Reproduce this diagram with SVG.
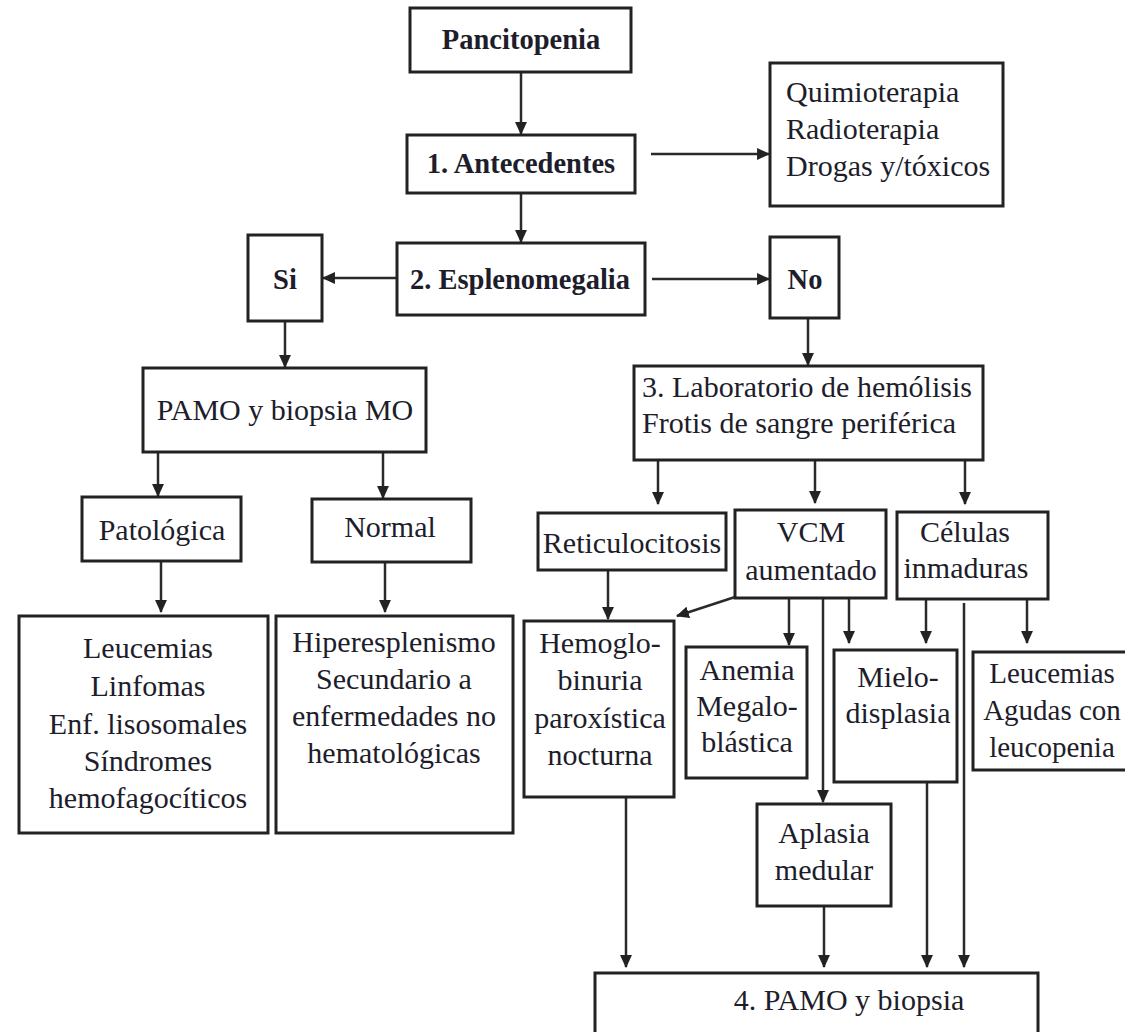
<svg xmlns="http://www.w3.org/2000/svg" width="1125" height="1032" viewBox="0 0 1125 1032">
  <defs>
    <marker id="arrow" markerWidth="13" markerHeight="13" viewBox="0 0 12 12" refX="11" refY="6" orient="auto" markerUnits="userSpaceOnUse">
      <path d="M0,0.5 L12,6 L0,11.5 Z" fill="#222"/>
    </marker>
    <style>
      .box { fill: #fff; stroke: #222; stroke-width: 3; }
      .t { font-family: "Liberation Serif", "Times New Roman", serif; font-size: 30px; fill: #1d1d2b; }
      .b { font-weight: bold; font-size: 28.5px; }
      .c { text-anchor: middle; }
      .s { font-size: 29px; }
      .link { fill: none; stroke: #2a2a2a; stroke-width: 2.5; }
      .arr { marker-end: url(#arrow); }
    </style>
  </defs>
  <rect width="1125" height="1032" fill="#fff"/>

  <!-- connectors -->
  <g id="connectors">
    <line class="link arr" x1="521" y1="72" x2="521" y2="134"/>
    <line class="link arr" x1="651" y1="154" x2="769" y2="154"/>
    <line class="link arr" x1="521" y1="193" x2="521" y2="242"/>
    <line class="link arr" x1="397" y1="278" x2="323" y2="278"/>
    <line class="link arr" x1="652" y1="279" x2="769" y2="279"/>
    <line class="link arr" x1="285" y1="321" x2="285" y2="367"/>
    <line class="link arr" x1="808" y1="318" x2="808" y2="365"/>
    <line class="link arr" x1="158" y1="452" x2="158" y2="496"/>
    <line class="link arr" x1="383" y1="452" x2="383" y2="498"/>
    <line class="link arr" x1="161" y1="561" x2="161" y2="612"/>
    <line class="link arr" x1="385" y1="562" x2="385" y2="612"/>
    <line class="link arr" x1="658" y1="460" x2="658" y2="504"/>
    <line class="link arr" x1="815" y1="460" x2="815" y2="503"/>
    <line class="link arr" x1="965" y1="460" x2="965" y2="504"/>
    <line class="link arr" x1="608" y1="570" x2="608" y2="619"/>
    <line class="link arr" x1="735" y1="597" x2="677" y2="616"/>
    <line class="link arr" x1="789" y1="598" x2="789" y2="645"/>
    <line class="link arr" x1="823" y1="598" x2="823" y2="802"/>
    <line class="link arr" x1="849" y1="598" x2="849" y2="643"/>
    <line class="link arr" x1="926" y1="599" x2="926" y2="643"/>
    <line class="link arr" x1="1027" y1="599" x2="1027" y2="643"/>
    <line class="link arr" x1="964" y1="603" x2="964" y2="967"/>
    <line class="link arr" x1="626" y1="797" x2="626" y2="967"/>
    <line class="link arr" x1="824" y1="906" x2="824" y2="967"/>
    <line class="link arr" x1="927" y1="782" x2="927" y2="967"/>
  </g>

  <!-- nodes -->
  <g id="pancitopenia">
    <rect class="box" x="410" y="8" width="221" height="64"/>
    <text class="t b c" x="521" y="49">Pancitopenia</text>
  </g>
  <g id="antecedentes">
    <rect class="box" x="407" y="135" width="228" height="58"/>
    <text class="t b c" x="521" y="173">1. Antecedentes</text>
  </g>
  <g id="tratamientos">
    <rect class="box" x="770" y="63" width="233" height="143"/>
    <text class="t" x="786" y="102">Quimioterapia</text>
    <text class="t" x="786" y="139">Radioterapia</text>
    <text class="t" x="786" y="176">Drogas y/tóxicos</text>
  </g>
  <g id="esplenomegalia">
    <rect class="box" x="397" y="243" width="248" height="72"/>
    <text class="t b c" x="520" y="289">2. Esplenomegalia</text>
  </g>
  <g id="si">
    <rect class="box" x="248" y="235" width="74" height="86"/>
    <text class="t b c" x="285" y="289">Si</text>
  </g>
  <g id="no">
    <rect class="box" x="770" y="237" width="69" height="81"/>
    <text class="t b c" x="805" y="289">No</text>
  </g>
  <g id="pamo-mo">
    <rect class="box" x="143" y="368" width="283" height="84"/>
    <text class="t c" x="285" y="420">PAMO y biopsia MO</text>
  </g>
  <g id="patologica">
    <rect class="box" x="82" y="497" width="159" height="64"/>
    <text class="t c" x="162" y="540">Patológica</text>
  </g>
  <g id="normal">
    <rect class="box" x="312" y="499" width="159" height="63"/>
    <text class="t c" x="390" y="537">Normal</text>
  </g>
  <g id="leucemias-linfomas">
    <rect class="box" x="19" y="616" width="249" height="217"/>
    <text class="t c" x="148" y="658">Leucemias</text>
    <text class="t c" x="148" y="696">Linfomas</text>
    <text class="t c" x="148" y="734">Enf. lisosomales</text>
    <text class="t c" x="148" y="771">Síndromes</text>
    <text class="t c" x="148" y="808">hemofagocíticos</text>
  </g>
  <g id="hiperesplenismo">
    <rect class="box" x="276" y="616" width="237" height="217"/>
    <text class="t c" x="394" y="652">Hiperesplenismo</text>
    <text class="t c" x="394" y="689">Secundario a</text>
    <text class="t c" x="394" y="726">enfermedades no</text>
    <text class="t c" x="394" y="763">hematológicas</text>
  </g>
  <g id="laboratorio">
    <rect class="box" x="634" y="366" width="349" height="94"/>
    <text class="t" x="642" y="397">3. Laboratorio de hemólisis</text>
    <text class="t" x="642" y="433">Frotis de sangre periférica</text>
  </g>
  <g id="reticulocitosis">
    <rect class="box" x="538" y="513" width="188" height="57"/>
    <text class="t c" x="632" y="553">Reticulocitosis</text>
  </g>
  <g id="vcm">
    <rect class="box" x="735" y="510" width="151" height="88"/>
    <text class="t c" x="811" y="542">VCM</text>
    <text class="t c" x="811" y="580">aumentado</text>
  </g>
  <g id="celulas">
    <rect class="box" x="897" y="512" width="151" height="87"/>
    <text class="t c" x="965" y="542">Células</text>
    <text class="t c" x="966" y="578">inmaduras</text>
  </g>
  <g id="hemoglobinuria">
    <rect class="box" x="524" y="621" width="150" height="176"/>
    <text class="t c" x="600" y="653">Hemoglo-</text>
    <text class="t c" x="600" y="690">binuria</text>
    <text class="t c" x="600" y="728">paroxística</text>
    <text class="t c" x="600" y="765">nocturna</text>
  </g>
  <g id="anemia">
    <rect class="box" x="686" y="647" width="121" height="131"/>
    <text class="t c" x="747" y="680">Anemia</text>
    <text class="t c" x="747" y="716">Megalo-</text>
    <text class="t c" x="747" y="752">blástica</text>
  </g>
  <g id="mielodisplasia">
    <rect class="box" x="834" y="650" width="123" height="132"/>
    <text class="t c" x="898" y="687">Mielo-</text>
    <text class="t c" x="898" y="723">displasia</text>
  </g>
  <g id="leucemias-agudas">
    <rect class="box" x="973" y="652" width="170" height="118"/>
    <text class="t s c" x="1052" y="683">Leucemias</text>
    <text class="t s c" x="1052" y="720">Agudas con</text>
    <text class="t s c" x="1052" y="757">leucopenia</text>
  </g>
  <g id="aplasia">
    <rect class="box" x="757" y="804" width="134" height="102"/>
    <text class="t c" x="824" y="843">Aplasia</text>
    <text class="t c" x="824" y="880">medular</text>
  </g>
  <g id="pamo-biopsia">
    <rect class="box" x="595" y="973" width="443" height="80"/>
    <text class="t c" x="849" y="1010">4. PAMO y biopsia</text>
  </g>
</svg>
